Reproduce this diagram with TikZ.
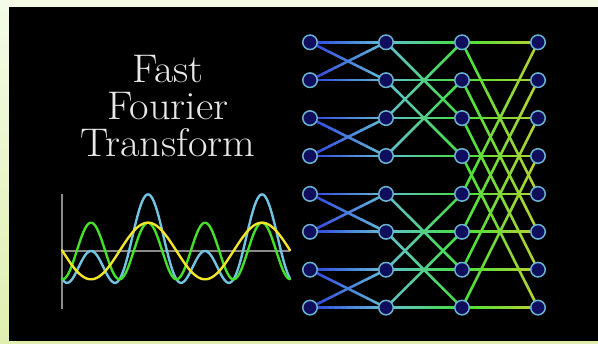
\documentclass[tikz,border=0pt]{standalone}
\usetikzlibrary{calc}
\definecolor{bgTop}{HTML}{F4FCE8}
\definecolor{bgBot}{HTML}{E0EFB0}
\definecolor{sA}{HTML}{3040E4}
\definecolor{sB}{HTML}{62BED4}
\definecolor{sC}{HTML}{44E23C}
\definecolor{sD}{HTML}{B8D232}
\definecolor{nodeFill}{HTML}{0E0E5C}
\definecolor{nodeRim}{HTML}{6AB2D0}
\definecolor{titleCol}{HTML}{E8E8E8}
\definecolor{axisCol}{HTML}{8A8A8A}
\definecolor{waveY}{HTML}{F2E62A}
\definecolor{waveG}{HTML}{44E02A}
\definecolor{waveC}{HTML}{72C4E2}
\pgfdeclarelayer{bg}
\pgfdeclarelayer{edges}
\pgfsetlayers{bg,edges,main}
\newcommand\gradedge[4]{%
  \foreach \k in {0,...,11}{%
    \pgfmathsetmacro\pa{\k/12}%
    \pgfmathsetmacro\pb{(\k+1)/12}%
    \pgfmathtruncatemacro\pc{100*(\k+0.5)/12}%
    \draw[edgeline,color=#4!\pc!#3] ($(#1.center)!\pa!(#2.center)$) -- ($(#1.center)!\pb!(#2.center)$);
  }}
\begin{document}
\begin{tikzpicture}[x=1pt,y=-1pt,
  dot/.style={circle,minimum size=14.5pt,inner sep=0pt,fill=nodeFill,draw=nodeRim,line width=1.5pt},
  edgeline/.style={line width=2.6pt,line cap=round},
  titletext/.style={anchor=base,text=titleCol,inner sep=0pt,xscale=1.06,transform shape,font=\fontsize{40}{40}\selectfont},
  axisline/.style={draw=axisCol,line width=2pt},
  wave/.style={line width=2.4pt,line cap=round,line join=round}]
\useasboundingbox (0,0) rectangle (598,344);
\begin{pgfonlayer}{bg}
\shade[top color=bgTop,bottom color=bgBot] (0,0) rectangle (598,344);
\fill[black] (9,7) rectangle (598,341);
\end{pgfonlayer}
% title
\node[titletext] (t1) at (168,83) {Fast};
\node[titletext] (t2) at (168,120) {Fourier};
\node[titletext] (t3) at (168,157) {Transform};
% axes
\draw[axisline] (62,194) -- (62,309);
\draw[axisline] (62,251) -- (290,251);
% waves
\draw[wave,waveC] plot[domain=62:290,samples=240] (\x,{251-28.3*cos(3.15789*(\x-148))-28.3*cos(6.31579*(\x-148))});
\draw[wave,waveG] plot[domain=62:290,samples=240] (\x,{251-28.3*cos(6.31579*(\x-148))});
\draw[wave,waveY] plot[domain=62:290,samples=200] (\x,{251-28.3*cos(3.15789*(\x-148))});
% nodes
\foreach \c/\xx in {0/310,1/386,2/462,3/538}{
  \foreach \r in {0,...,7}{
    \node[dot] (n\c\r) at (\xx,{42.3+37.9*\r}) {};
  }}
% edges
\begin{pgfonlayer}{edges}
\foreach \s/\d/\ca/\cb in {0/1/sA/sB,1/2/sB/sC,2/4/sC/sD}{
  \pgfmathtruncatemacro\t{\s+1}
  \foreach \r in {0,...,7}{
    \pgfmathtruncatemacro\p{mod(floor(\r/\d),2)==0 ? \r+\d : \r-\d}
    \gradedge{n\s\r}{n\t\r}{\ca}{\cb}
    \gradedge{n\s\r}{n\t\p}{\ca}{\cb}
  }}
\end{pgfonlayer}
\end{tikzpicture}
\end{document}
